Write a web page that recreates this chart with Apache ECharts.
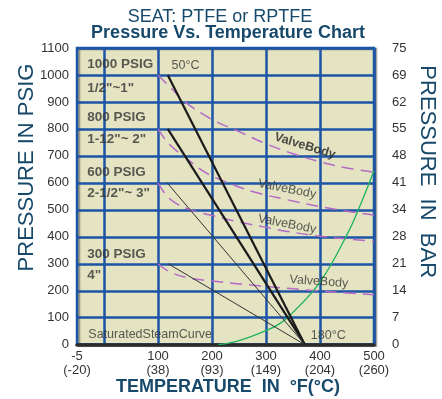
<!DOCTYPE html>
<html><head><meta charset="utf-8">
<script src="https://cdn.jsdelivr.net/npm/echarts@6/dist/echarts.min.js"></script>
<style>html,body{margin:0;padding:0;background:#fff}#c{width:442px;height:399px}</style>
</head><body><div id="c"></div>
<script>
// ---------- DATA ----------
const xTickValues   = [-50, 0, 100, 200, 300, 400, 500];
const xTickLabelsF  = ['-5', '0', '100', '200', '300', '400', '500'];
const xTickLabelsC  = ['(-20)', '(-18)', '(38)', '(93)', '(149)', '(204)', '(260)'];
const psiTicks      = [0, 100, 200, 300, 400, 500, 600, 700, 800, 900, 1000, 1100];
const barTickLabels = ['0', '7', '14', '21', '28', '34', '41', '48', '55', '62', '69', '75'];

// Seat ratings (°F, psig) – straight lines from 50°C to 180°C
const seat1000 = [[118, 1000], [372, 0]];
const seat800  = [[118, 800], [372, 0]];
const seat600  = [[117, 600], [372, 0]];
const seat300  = [[119, 300], [372, 0]];

// Valve body ratings (°F, psig)
const body1000 = [[100,1000],[125,950],[150,900],[200,835],[250,790],[300,745],[350,708],[400,678],[450,655],[500,640]];
const body800  = [[100,800],[120,745],[150,695],[190,636],[230,600],[280,565],[340,537],[400,512],[450,495],[500,481]];
const body600  = [[100,600],[115,555],[132,526],[160,500],[194,482],[250,455],[300,435],[340,420],[400,402],[450,392],[500,383]];
const body300  = [[100,300],[120,272],[151,250],[190,238],[237,228],[290,218],[340,209],[400,199],[450,192],[500,185]];

// Saturated steam curve (°F, psig)
const steam = [[212,0],[250,15],[300,52],[327,80],[350,120],[400,232],[450,408],[475,520],[500,645]];

// ---------- STYLE ----------
const FONT = '"Liberation Sans", Arial, Helvetica, sans-serif';
const BLUE = '#1c55a6';
const TEXT = '#333333';
const TITLE = '#17496b';
const PURPLE = '#b46ac6';
const GREEN = '#1fb35c';

const annotations = [
  {text: '1000 PSIG', at: [-31, 1040], bold: true, size: 13.5},
  {text: '1/2"~1"', at: [-31, 951], bold: true, size: 13.5},
  {text: '800 PSIG', at: [-31, 842], bold: true, size: 13.5},
  {text: '1-12"~ 2"', at: [-31, 762], bold: true, size: 13.5},
  {text: '600 PSIG', at: [-31, 639], bold: true, size: 13.5},
  {text: '2-1/2"~ 3"', at: [-31, 561], bold: true, size: 13.5},
  {text: '300 PSIG', at: [-31, 336], bold: true, size: 13.5},
  {text: '4"', at: [-31, 259], bold: true, size: 13.5},
  {text: 'SaturatedSteamCurve', at: [-29, 39], size: 12.5},
  {text: '50°C', at: [125, 1034], size: 12.5},
  {text: '180°C', at: [383, 33], size: 12.5}
];
const rotatedNotes = [
  {text: 'ValveBody', at: [372, 737], rot: -17, bold: true},
  {text: 'ValveBody', at: [339, 577], rot: -11},
  {text: 'ValveBody', at: [339, 447], rot: -11},
  {text: 'ValveBody', at: [398, 234], rot: -4}
];

function lineSeries(name, data, color, width, dash, smooth) {
  return {
    name, type: 'line', data, symbol: 'none', smooth: smooth || false,
    lineStyle: {color, width, type: dash || 'solid'},
    silent: true, z: 3
  };
}

const chart = echarts.init(document.getElementById('c'), null, {renderer: 'canvas'});
chart.setOption({
  animation: false,
  backgroundColor: '#ffffff',
  grid: {
    left: 77, right: 68, top: 48, bottom: 54.3,
    show: true, backgroundColor: '#e4e3c2', borderColor: BLUE, borderWidth: 2.5,
    shadowColor: 'rgba(0,0,0,0.35)', shadowOffsetX: 2, shadowOffsetY: 1, shadowBlur: 1,
    outerBoundsMode: 'none'
  },
  xAxis: {
    type: 'value', min: -50, max: 500, interval: 50,
    axisLine: {show: true, onZero: false, lineStyle: {color: '#2b2b2b', width: 3.5}},
    axisTick: {show: false},
    splitLine: {show: true, showMinLine: true, showMaxLine: true,
      lineStyle: {color: ['rgba(0,0,0,0)', BLUE], width: 2.5}},
    axisLabel: {
      margin: 5, fontFamily: FONT, fontSize: 13, color: TEXT, lineHeight: 14,
      showMinLabel: true, showMaxLabel: true,
      formatter: v => {
        const i = xTickValues.indexOf(v);
        return i < 0 ? '' : xTickLabelsF[i] + '\n' + xTickLabelsC[i];
      }
    }
  },
  yAxis: [{
    type: 'value', min: 0, max: 1100, interval: 100, position: 'left',
    axisLine: {show: false}, axisTick: {show: false},
    splitLine: {show: true, lineStyle: {color: BLUE, width: 2.5}},
    axisLabel: {margin: 8, fontFamily: FONT, fontSize: 13, color: TEXT,
      formatter: v => psiTicks.indexOf(v) < 0 ? '' : String(v)}
  }, {
    type: 'value', min: 0, max: 1100, interval: 100, position: 'right',
    axisLine: {show: false}, axisTick: {show: false}, splitLine: {show: false},
    axisLabel: {margin: 18, fontFamily: FONT, fontSize: 13, color: TEXT, align: 'left',
      formatter: v => { const i = psiTicks.indexOf(v); return i < 0 ? '' : barTickLabels[i]; }}
  }],
  graphic: [
    {type: 'text', x: 220, y: 17.5, style: {text: 'SEAT: PTFE or RPTFE', fontFamily: FONT, fontSize: 18, fill: TITLE, align: 'center', verticalAlign: 'middle'}},
    {type: 'text', x: 228, y: 33.5, style: {text: 'Pressure Vs. Temperature Chart', fontFamily: FONT, fontSize: 18, fontWeight: 'bold', fill: TITLE, align: 'center', verticalAlign: 'middle'}},
    {type: 'text', x: 228, y: 387, style: {text: 'TEMPERATURE  IN  °F(°C)', fontFamily: FONT, fontSize: 18, fontWeight: 'bold', fill: TITLE, align: 'center', verticalAlign: 'middle'}},
    {type: 'text', x: 26.5, y: 167.5, rotation: Math.PI / 2, style: {text: 'PRESSURE IN PSIG', fontFamily: FONT, fontSize: 22, fill: TITLE, align: 'center', verticalAlign: 'middle'}},
    {type: 'text', x: 427.5, y: 171.7, rotation: -Math.PI / 2, style: {text: 'PRESSURE  IN  BAR', fontFamily: FONT, fontSize: 22, fill: TITLE, align: 'center', verticalAlign: 'middle'}}
  ],
  series: [
    lineSeries('body1000', body1000, PURPLE, 1.5, [12, 7], 0.4),
    lineSeries('body800', body800, PURPLE, 1.5, [12, 7], 0.4),
    lineSeries('body600', body600, PURPLE, 1.5, [12, 7], 0.4),
    lineSeries('body300', body300, PURPLE, 1.5, [12, 7], 0.4),
    lineSeries('steam', steam, GREEN, 1.3, 'solid', 0.4),
    lineSeries('seat1000', seat1000, '#1a1a1a', 2.2),
    lineSeries('seat800', seat800, '#1a1a1a', 2.2),
    lineSeries('seat600', seat600, '#333333', 1),
    lineSeries('seat300', seat300, '#333333', 1),
    {
      type: 'scatter', symbolSize: 0, silent: true, z: 5,
      data: annotations.map(a => ({
        value: a.at,
        label: {show: true, position: 'right', distance: 0, formatter: a.text,
          fontFamily: FONT, fontSize: a.size, fontWeight: a.bold ? 'bold' : 'normal', color: TEXT}
      })).concat(rotatedNotes.map(a => ({
        value: a.at,
        label: {show: true, position: 'inside', rotate: a.rot, formatter: a.text,
          fontFamily: FONT, fontSize: 12.5, fontWeight: a.bold ? 'bold' : 'normal', color: a.bold ? '#222' : TEXT}
      })))
    }
  ]
});
</script></body></html>
